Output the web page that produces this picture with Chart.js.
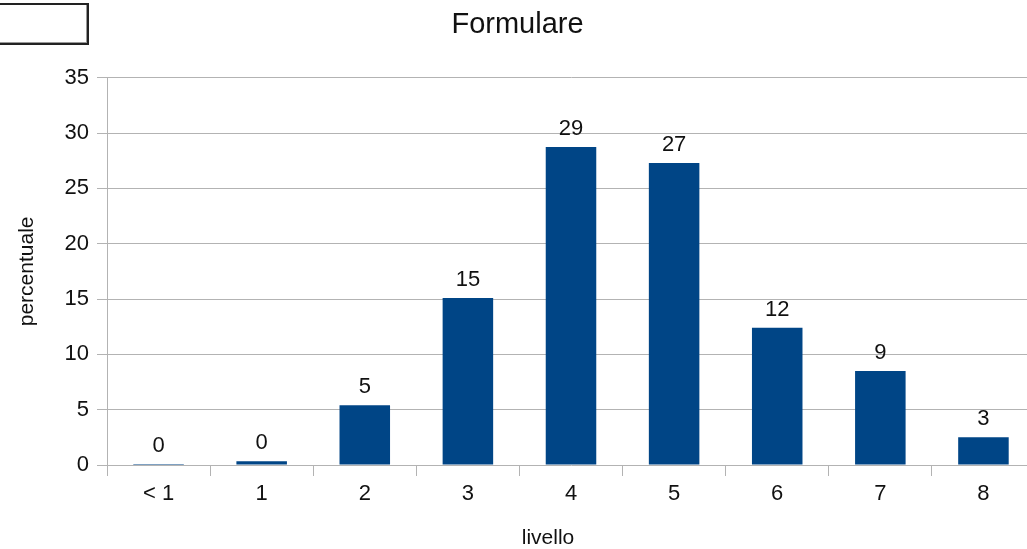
<!DOCTYPE html>
<html>
<head>
<meta charset="utf-8">
<script src="https://cdn.jsdelivr.net/npm/chart.js"></script>
<style>
  html,body{margin:0;padding:0;background:#fff;overflow:hidden}
  #wrap{position:relative;width:1027px;height:549px;overflow:hidden}
  #legendBox{position:absolute;left:-3px;top:3px;width:88px;height:38px;border:2px solid #222;box-shadow:inset -1px -1px 0 #999}
  canvas{position:absolute;left:0;top:0}
</style>
</head>
<body>
<div id="wrap">
  <canvas id="c" width="1035" height="549"></canvas>
  <div id="legendBox"></div>
</div>
<script>
const categories=["< 1","1","2","3","4","5","6","7","8"];
const values=[0.1,0.35,5.4,15.1,28.75,27.3,12.4,8.5,2.5];
const valueLabels=["0","0","5","15","29","27","12","9","3"];
const yTicks=[0,5,10,15,20,25,30,35];
const xTitle="livello";

const FONT="'Liberation Sans', Arial, sans-serif";

// value labels above the bars, plus the x axis title (placed left of the scale centre as in the original)
const barLabels={
  id:"barLabels",
  afterDatasetsDraw(chart){
    const ctx=chart.ctx;
    const meta=chart.getDatasetMeta(0);
    ctx.save();
    ctx.font="22px "+FONT;
    ctx.fillStyle="#111";
    ctx.textAlign="center";
    ctx.textBaseline="alphabetic";
    meta.data.forEach((bar,i)=>{
      ctx.fillText(valueLabels[i],bar.x,bar.y-12);
    });
    ctx.font="21px "+FONT;
    ctx.textBaseline="middle";
    ctx.fillText(xTitle,chart.chartArea.left+441,chart.height-11);
    ctx.restore();
  }
};

new Chart(document.getElementById("c").getContext("2d"),{
  type:"bar",
  data:{
    labels:categories,
    datasets:[{
      data:values,
      backgroundColor:"#004586",
      borderWidth:0,
      categoryPercentage:1,
      barPercentage:0.49
    }]
  },
  options:{
    responsive:false,
    animation:false,
    devicePixelRatio:1,
    layout:{padding:0},
    plugins:{
      legend:{display:false},
      tooltip:{enabled:false},
      title:{
        display:true,
        text:"Formulare",
        color:"#111",
        font:{family:FONT,size:29,weight:"normal",lineHeight:1.2},
        padding:{top:8,bottom:35},
        align:"center"
      }
    },
    scales:{
      x:{
        grid:{drawOnChartArea:false,drawTicks:true,tickLength:11,color:"#b3b3b3",offset:true},
        border:{display:false},
        ticks:{color:"#111",font:{family:FONT,size:22},padding:5,maxRotation:0,autoSkip:false},
        title:{display:false},
        afterFit(s){s.height=84;}
      },
      y:{
        min:0,max:35,
        afterBuildTicks(s){s.ticks=yTicks.map(v=>({value:v}));},
        grid:{color:"#b3b3b3",tickLength:10,drawTicks:true},
        border:{display:true,color:"#b3b3b3"},
        ticks:{color:"#111",font:{family:FONT,size:22},padding:8},
        title:{display:true,text:"percentuale",color:"#111",font:{family:FONT,size:21,lineHeight:1.2},padding:{top:15,bottom:0}},
        afterFit(s){s.width=107;}
      }
    }
  },
  plugins:[barLabels]
});
</script>
</body>
</html>
